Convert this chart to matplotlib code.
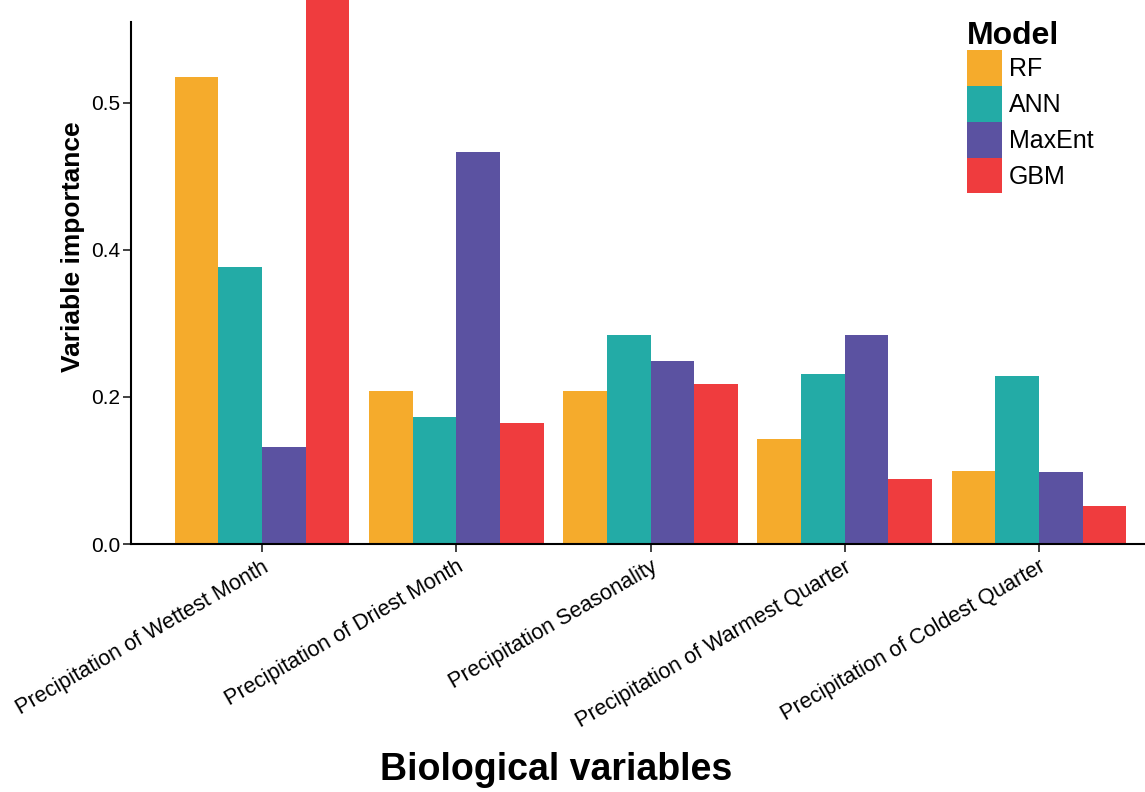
import numpy as np
import matplotlib
matplotlib.use("Agg")
import matplotlib.pyplot as plt
import matplotlib.transforms as mtransforms

plt.rcParams['font.family'] = ['Liberation Sans', 'DejaVu Sans']

# Data
variables = [
    "Precipitation of Wettest Month",
    "Precipitation of Driest Month",
    "Precipitation Seasonality",
    "Precipitation of Warmest Quarter",
    "Precipitation of Coldest Quarter",
]
models = ["RF", "ANN", "MaxEnt", "GBM"]
rf = [0.635, 0.208, 0.208, 0.143, 0.099]
ann = [0.377, 0.173, 0.284, 0.231, 0.229]
maxent = [0.132, 0.533, 0.249, 0.284, 0.098]
gbm = [0.780, 0.165, 0.218, 0.088, 0.052]
ytick_values = [0.0, 0.2, 0.4, 0.6]
ytick_labels = ["0.0", "0.2", "0.4", "0.5"]

colors = ["#F5AB2C", "#23ABA6", "#5B52A1", "#EF3C3E"]
series = [rf, ann, maxent, gbm]

fig = plt.figure(figsize=(11.45, 7.92), dpi=100)
ax = fig.add_axes([131 / 1145, (792 - 544) / 792, 1 - 131 / 1145, (544 - 22) / 792])

x = np.arange(1, len(variables) + 1)
width = 0.225
for i, (vals, name, col) in enumerate(zip(series, models, colors)):
    offs = (i - 1.5) * width
    ax.bar(x + offs, vals, width=width, color=col, label=name,
           linewidth=0, clip_on=False, zorder=1)

ax.set_xlim(0.325, 5.546)
ax.set_ylim(0, 0.710)

ax.set_yticks(ytick_values)
ax.set_yticklabels(ytick_labels, fontsize=15)
ax.set_xticks(x)
ax.set_xticklabels(variables, fontsize=15.6, rotation=30, ha='right',
                   rotation_mode='anchor')
shift = mtransforms.ScaledTranslation(7 / 100, -3 / 100, fig.dpi_scale_trans)
for lab in ax.get_xticklabels():
    lab.set_transform(lab.get_transform() + shift)

for side in ['top', 'right']:
    ax.spines[side].set_visible(False)
for side in ['left', 'bottom']:
    ax.spines[side].set_linewidth(1.5)
    ax.spines[side].set_color('black')
    ax.spines[side].set_zorder(3)

ax.tick_params(axis='both', direction='out', length=6, width=1.3,
               color='#333333', labelcolor='black')
ax.tick_params(axis='x', pad=3)
ax.tick_params(axis='y', pad=2)

fig.text(73 / 1145, 1 - 247 / 792, "Variable importance", fontsize=19,
         fontweight='bold', rotation=90, ha='center', va='center')
fig.text(556 / 1145, 1 - 770 / 792, "Biological variables", fontsize=27,
         fontweight='bold', ha='center', va='center')

leg = ax.legend(title="Model", loc='upper left',
                bbox_to_anchor=(949 / 1145, 1 - 3 / 792),
                bbox_transform=fig.transFigure, frameon=False,
                fontsize=18, title_fontproperties={'weight': 'bold', 'size': 23},
                handlelength=1.4, handleheight=1.82, labelspacing=0,
                handletextpad=0.3, borderpad=0.2, alignment='left')

fig.savefig("out.png", dpi=100)
